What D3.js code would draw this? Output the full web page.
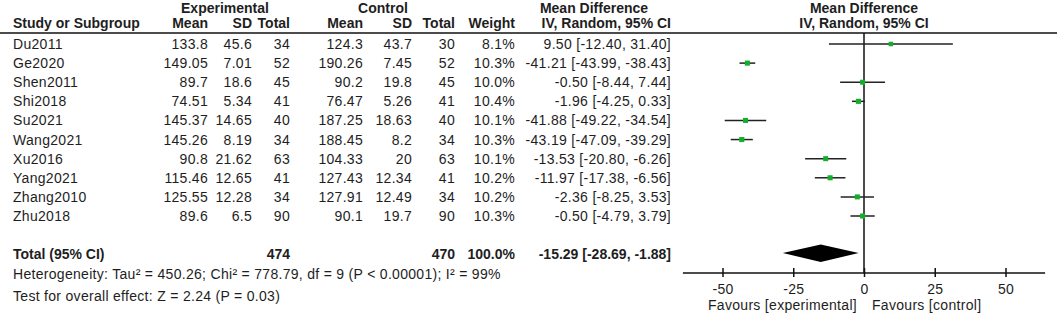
<!DOCTYPE html>
<html>
<head>
<meta charset="utf-8">
<script src="https://cdn.jsdelivr.net/npm/d3@7"></script>
<style>
  body { margin: 0; background: #fff; }
  svg text { font-family: "Liberation Sans", Arial, sans-serif; font-size: 14px; fill: #1e1e1e; letter-spacing: 0.3px; }
  .bold { font-weight: bold; letter-spacing: 0; }
</style>
</head>
<body>
<svg width="1059" height="318"></svg>
<script>
const studies = ['Du2011', 'Ge2020', 'Shen2011', 'Shi2018', 'Su2021', 'Wang2021', 'Xu2016', 'Yang2021', 'Zhang2010', 'Zhu2018']
const expMean = [133.8, 149.05, 89.7, 74.51, 145.37, 145.26, 90.8, 115.46, 125.55, 89.6]
const expSD = [45.6, 7.01, 18.6, 5.34, 14.65, 8.19, 21.62, 12.65, 12.28, 6.5]
const expN = [34, 52, 45, 41, 40, 34, 63, 41, 34, 90]
const ctlMean = [124.3, 190.26, 90.2, 76.47, 187.25, 188.45, 104.33, 127.43, 127.91, 90.1]
const ctlSD = [43.7, 7.45, 19.8, 5.26, 18.63, 8.2, 20, 12.34, 12.49, 19.7]
const ctlN = [30, 52, 45, 41, 40, 34, 63, 41, 34, 90]
const weight = [8.1, 10.3, 10.0, 10.4, 10.1, 10.3, 10.1, 10.2, 10.2, 10.3]
const md = [9.50, -41.21, -0.50, -1.96, -41.88, -43.19, -13.53, -11.97, -2.36, -0.50]
const ciLow = [-12.40, -43.99, -8.44, -4.25, -49.22, -47.09, -20.80, -17.38, -8.25, -4.79]
const ciHigh = [31.40, -38.43, 7.44, 0.33, -34.54, -39.29, -6.26, -6.56, 3.53, 3.79]

const total = { label: 'Total (95% CI)', expN: 474, ctlN: 470, weight: 100.0, md: -15.29, lo: -28.69, hi: -1.88 }
const heterogeneity = 'Heterogeneity: Tau² = 450.26; Chi² = 778.79, df = 9 (P < 0.00001); I² = 99%'
const overallTest = 'Test for overall effect: Z = 2.24 (P = 0.03)'
const xTicks = [-50, -25, 0, 25, 50]
const favours = ['Favours [experimental]', 'Favours [control]']

const svg = d3.select('svg')

const rows = studies.map((s, i) => ({
  study: s, expMean: expMean[i], expSD: expSD[i], expN: expN[i],
  ctlMean: ctlMean[i], ctlSD: ctlSD[i], ctlN: ctlN[i],
  weight: weight[i], md: md[i], lo: ciLow[i], hi: ciHigh[i]
}))

const yScale = d3.scalePoint()
  .domain(studies)
  .range([44, 216])

const xScale = d3.scaleLinear()
  .domain([-50, 50])
  .range([722.5, 1005.5])

const headerLineY = 33
const axisY = 273
const totalY = 254

// columns: right edge x + accessor
const columns = [
  { x: 208, head: 'Mean', val: d => d.expMean },
  { x: 252, head: 'SD', val: d => d.expSD },
  { x: 290, head: 'Total', val: d => d.expN },
  { x: 363, head: 'Mean', val: d => d.ctlMean },
  { x: 412, head: 'SD', val: d => d.ctlSD },
  { x: 455, head: 'Total', val: d => d.ctlN },
  { x: 515, head: 'Weight', val: d => d.weight.toFixed(1) + '%' },
  { x: 671, head: 'IV, Random, 95% CI', val: d => `${d.md.toFixed(2)} [${d.lo.toFixed(2)}, ${d.hi.toFixed(2)}]` }
]

// headers
const head = svg.append('g')
head.append('text').attr('class', 'bold').attr('x', 225).attr('y', 13).attr('text-anchor', 'middle').text('Experimental')
head.append('text').attr('class', 'bold').attr('x', 383).attr('y', 13).attr('text-anchor', 'middle').text('Control')
head.append('text').attr('class', 'bold').attr('x', 594).attr('y', 13).attr('text-anchor', 'middle').text('Mean Difference')
head.append('text').attr('class', 'bold').attr('x', 864).attr('y', 13).attr('text-anchor', 'middle').text('Mean Difference')
head.append('text').attr('class', 'bold').attr('x', 13).attr('y', 28).text('Study or Subgroup')
head.append('text').attr('class', 'bold').attr('x', 864).attr('y', 28).attr('text-anchor', 'middle').text('IV, Random, 95% CI')

columns.forEach(c => {
  head.append('text')
    .attr('class', 'bold')
    .attr('x', c.x)
    .attr('y', 28)
    .attr('text-anchor', 'end')
    .text(c.head)
})

svg.append('line')
  .attr('x1', 0).attr('x2', 1057)
  .attr('y1', headerLineY).attr('y2', headerLineY)
  .attr('stroke', '#111').attr('stroke-width', 1.3)

// study rows
const rowG = svg.append('g')
  .selectAll('g')
  .data(rows)
  .enter().append('g')
  .attr('transform', d => `translate(0,${yScale(d.study) + 5})`)

rowG.append('text').attr('x', 13).text(d => d.study)

columns.forEach(c => {
  rowG.append('text')
    .attr('x', c.x)
    .attr('text-anchor', 'end')
    .text(c.val)
})

// total rows
const totG = svg.append('g').attr('transform', `translate(0,${totalY + 5})`)
totG.append('text').attr('class', 'bold').attr('x', 13).text(total.label)
totG.append('text').attr('class', 'bold').attr('x', 290).attr('text-anchor', 'end').text(total.expN)
totG.append('text').attr('class', 'bold').attr('x', 455).attr('text-anchor', 'end').text(total.ctlN)
totG.append('text').attr('class', 'bold').attr('x', 515).attr('text-anchor', 'end').text(total.weight.toFixed(1) + '%')
totG.append('text').attr('class', 'bold').attr('x', 671).attr('text-anchor', 'end')
  .text(`${total.md.toFixed(2)} [${total.lo.toFixed(2)}, ${total.hi.toFixed(2)}]`)

svg.append('text').attr('x', 13).attr('y', 279).text(heterogeneity)
svg.append('text').attr('x', 13).attr('y', 301).text(overallTest)

// forest plot
const plotG = svg.append('g')

plotG.append('line')
  .attr('x1', xScale(0)).attr('x2', xScale(0))
  .attr('y1', headerLineY).attr('y2', axisY)
  .attr('stroke', '#111').attr('stroke-width', 1.5)

plotG.selectAll('.ci')
  .data(rows)
  .enter().append('line')
  .attr('class', 'ci')
  .attr('x1', d => xScale(d.lo))
  .attr('x2', d => xScale(d.hi))
  .attr('y1', d => yScale(d.study))
  .attr('y2', d => yScale(d.study))
  .attr('stroke', '#222')
  .attr('stroke-width', 1.5)

const side = w => 5 * Math.sqrt(w / 10)

plotG.selectAll('.box')
  .data(rows)
  .enter().append('rect')
  .attr('class', 'box')
  .attr('x', d => xScale(d.md) - side(d.weight) / 2)
  .attr('y', d => yScale(d.study) - side(d.weight) / 2)
  .attr('width', d => side(d.weight))
  .attr('height', d => side(d.weight))
  .attr('fill', '#12b02a')

plotG.append('path')
  .attr('d', `M${xScale(total.lo)},${totalY - 1} L${xScale(total.md)},${totalY - 9.5} L${xScale(total.hi)},${totalY - 1} L${xScale(total.md)},${totalY + 8} Z`)
  .attr('fill', '#000')

const xAxis = d3.axisBottom(xScale)
  .tickValues(xTicks)
  .tickFormat(d => String(d))
  .tickSize(0)
  .tickPadding(11)

const xAxisG = plotG.append('g')
  .attr('transform', `translate(0,${axisY})`)
  .call(xAxis)

xAxisG.select('.domain').remove()
xAxisG.append('line')
  .attr('x1', xScale(-64)).attr('x2', xScale(64))
  .attr('stroke', '#111').attr('stroke-width', 1.3)

xAxisG.selectAll('.tick line')
  .attr('y1', -5).attr('y2', 4)
  .attr('stroke', '#111').attr('stroke-width', 1.5)

xAxisG.selectAll('.tick text')
  .attr('font-size', null)
  .attr('font-family', null)
  .attr('fill', null)

plotG.append('text').attr('x', xScale(0) - 7).attr('y', 310).attr('text-anchor', 'end').text(favours[0])
plotG.append('text').attr('x', xScale(0) + 8).attr('y', 310).text(favours[1])
</script>
</body>
</html>
